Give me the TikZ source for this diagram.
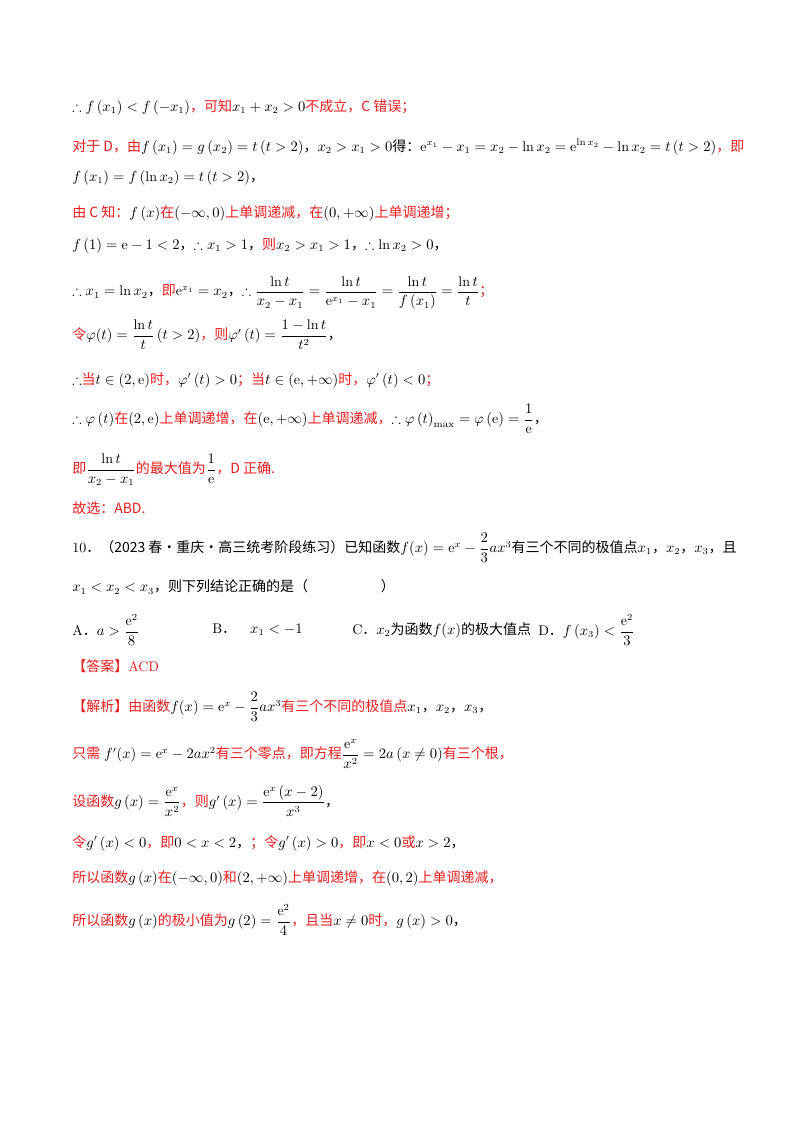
\documentclass[tikz,border=0pt]{standalone}
\usepackage{amsmath,amssymb}
\usepackage{fontspec}
\newfontfamily\cjk{Noto Sans CJK SC}
\definecolor{rd}{RGB}{235,30,30}
\newcommand{\zh}[1]{{\cjk #1}}
\newcommand{\rz}[1]{{\color{rd}\cjk #1}}
\begin{document}
\begin{tikzpicture}[x=0.75pt,y=-0.75pt,every node/.style={anchor=west,inner sep=0pt,font=\fontsize{10.5}{12}\selectfont}]
\useasboundingbox[fill=white] (0,0) rectangle (800,1132);
\node (l1) at (72,107) {$\therefore f\left(x_1\right)<f\left(-x_1\right)$\rz{，可知}$x_1+x_2>0$\rz{不成立，C 错误；}};
\node (l2) at (72,147) {\rz{对于 D，由}$f\left(x_1\right)=g\left(x_2\right)=t\left(t>2\right)$\zh{，}$x_2>x_1>0$\zh{得：}$\mathrm{e}^{x_1}-x_1=x_2-\ln x_2=\mathrm{e}^{\ln x_2}-\ln x_2=t\left(t>2\right)$\rz{，即}};
\node (l3) at (72,178) {$f\left(x_1\right)=f\left(\ln x_2\right)=t\left(t>2\right)$\zh{，}};
\node (l4) at (72,213) {\rz{由 C 知：}$f\left(x\right)$\rz{在}$\left(-\infty,0\right)$\rz{上单调递减，在}$\left(0,+\infty\right)$\rz{上单调递增；}};
\node (l5) at (72,245) {$f\left(1\right)=\mathrm{e}-1<2$\zh{，}$\therefore x_1>1$\zh{，}\rz{则}$x_2>x_1>1$\zh{，}$\therefore\ln x_2>0$\zh{，}};
\node (l6) at (72,293) {$\therefore x_1=\ln x_2$\zh{，}\rz{即}$\mathrm{e}^{x_1}=x_2$\zh{，}$\therefore\dfrac{\ln t}{x_2-x_1}=\dfrac{\ln t}{\mathrm{e}^{x_1}-x_1}=\dfrac{\ln t}{f\left(x_1\right)}=\dfrac{\ln t}{t}$\rz{；}};
\node (l7) at (72,335) {\rz{令}$\varphi(t)=\dfrac{\ln t}{t}\left(t>2\right)$\rz{，则}$\varphi'\left(t\right)=\dfrac{1-\ln t}{t^2}$\zh{，}};
\node (l8) at (72,380) {$\therefore$\rz{当}$t\in\left(2,\mathrm{e}\right)$\rz{时，}$\varphi'\left(t\right)>0$\rz{；当}$t\in\left(\mathrm{e},+\infty\right)$\rz{时，}$\varphi'\left(t\right)<0$\rz{；}};
\node (l9) at (72,419) {$\therefore\varphi\left(t\right)$\rz{在}$\left(2,\mathrm{e}\right)$\rz{上单调递增，在}$\left(\mathrm{e},+\infty\right)$\rz{上单调递减，}$\therefore\varphi\left(t\right)_{\max}=\varphi\left(\mathrm{e}\right)=\dfrac{1}{\mathrm{e}}$\zh{，}};
\node (l10) at (72,470) {\rz{即}$\dfrac{\ln t}{x_2-x_1}$\rz{的最大值为}$\dfrac{1}{\mathrm{e}}$\rz{，D 正确.}};
\node (l11) at (72,508) {\rz{故选：ABD.}};
\node (l12) at (72,548) {10\zh{．（2023 春·重庆·高三统考阶段练习）已知函数}$f(x)=\mathrm{e}^x-\dfrac{2}{3}ax^3$\zh{有三个不同的极值点}$x_1$\zh{，}$x_2$\zh{，}$x_3$\zh{，且}};
\node (l13) at (72,587) {$x_1<x_2<x_3$\zh{，则下列结论正确的是（\hspace{5.2em}）}};
\node (A) at (72,630) {A\zh{．}$a>\dfrac{\mathrm{e}^2}{8}$};
\node (B) at (212,630) {B\zh{．}\quad$x_1<-1$};
\node (C) at (352,630) {C\zh{．}$x_2$\zh{为函数}$f(x)$\zh{的极大值点}};
\node (D) at (538,630) {D\zh{．}$f\left(x_3\right)<\dfrac{\mathrm{e}^2}{3}$};
\node (l15) at (72,666) {\rz{【答案】}{\color{rd}ACD}};
\node (l16) at (72,707) {\rz{【解析】由函数}$f(x)=\mathrm{e}^x-\dfrac{2}{3}ax^3$\rz{有三个不同的极值点}$x_1$\zh{，}$x_2$\zh{，}$x_3$\zh{，}};
\node (l17) at (72,754) {\rz{只需}\;$f'(x)=\mathrm{e}^x-2ax^2$\rz{有三个零点，即方程}$\dfrac{\mathrm{e}^x}{x^2}=2a\left(x\ne0\right)$\rz{有三个根，}};
\node (l18) at (72,801) {\rz{设函数}$g\left(x\right)=\dfrac{\mathrm{e}^x}{x^2}$\rz{，则}$g'\left(x\right)=\dfrac{\mathrm{e}^x\left(x-2\right)}{x^3}$\zh{，}};
\node (l19) at (72,843) {\rz{令}$g'\left(x\right)<0$\rz{，即}$0<x<2$\zh{，}\rz{；令}$g'\left(x\right)>0$\rz{，即}$x<0$\rz{或}$x>2$\zh{，}};
\node (l20) at (72,878) {\rz{所以函数}$g\left(x\right)$\rz{在}$\left(-\infty,0\right)$\rz{和}$\left(2,+\infty\right)$\rz{上单调递增，在}$\left(0,2\right)$\rz{上单调递减，}};
\node (l21) at (72,920) {\rz{所以函数}$g\left(x\right)$\rz{的极小值为}$g\left(2\right)=\dfrac{\mathrm{e}^2}{4}$\rz{，且当}$x\ne0$\rz{时，}$g\left(x\right)>0$\zh{，}};
\end{tikzpicture}
\end{document}
